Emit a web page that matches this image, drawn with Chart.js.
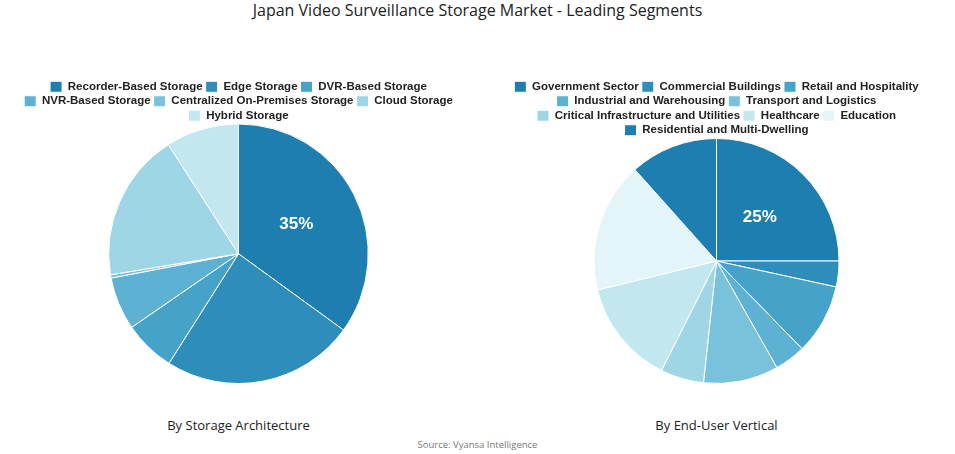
<!DOCTYPE html>
<html>
<head>
    <title>Japan Video Surveillance Storage Market - Leading Segments</title>
    <script src="https://cdn.jsdelivr.net/npm/chart.js"></script>
    <style>
        body {
            margin: 0;
            width: 955px;
            height: 454px;
            background: #ffffff;
            font-family: 'Open Sans', Arial, sans-serif;
            color: #222;
            position: relative;
            overflow: hidden;
        }
        .title {
            position: absolute;
            top: -1px;
            left: 0;
            width: 955px;
            text-align: center;
            font-size: 16px;
        }
        .chart-box {
            position: absolute;
            top: 78px;
            width: 477px;
            height: 308px;
        }
        .sub {
            position: absolute;
            top: 416px;
            width: 477px;
            text-align: center;
            font-size: 13px;
        }
        .source {
            position: absolute;
            top: 438px;
            left: 0;
            width: 955px;
            text-align: center;
            font-size: 9.5px;
            color: #777;
        }
    </style>
</head>
<body>
    <div class="title">Japan Video Surveillance Storage Market - Leading Segments</div>
    <div class="chart-box" style="left:0"><canvas id="archChart"></canvas></div>
    <div class="chart-box" style="left:478px"><canvas id="verticalChart"></canvas></div>
    <div class="sub" style="left:0">By Storage Architecture</div>
    <div class="sub" style="left:478px">By End-User Vertical</div>
    <div class="source">Source: Vyansa Intelligence</div>
    <script>
        // Segment data
        const archLabels = ['Recorder-Based Storage', 'Edge Storage', 'DVR-Based Storage', 'NVR-Based Storage',
            'Centralized On-Premises Storage', 'Cloud Storage', 'Hybrid Storage'];
        const archValues = [35, 24, 6.4, 6.6, 0.4, 18.5, 9.1];

        const verticalLabels = ['Government Sector', 'Commercial Buildings', 'Retail and Hospitality',
            'Industrial and Warehousing', 'Transport and Logistics', 'Critical Infrastructure and Utilities',
            'Healthcare', 'Education', 'Residential and Multi-Dwelling'];
        const verticalValues = [25, 3.4, 9.3, 4.1, 9.9, 5.7, 13.8, 17.2, 11.6];

        const palette = ['#1f7eb0', '#2e8dba', '#45a2c8', '#5db1d3', '#79c2dc', '#9fd6e6', '#c3e7ef', '#e4f5f9'];

        // Only the biggest slice gets its percentage written on it
        const topLabel = {
            id: 'topLabel',
            afterDatasetsDraw(chart) {
                const values = chart.data.datasets[0].data;
                const total = values.reduce((a, b) => a + b, 0);
                const idx = values.indexOf(Math.max(...values));
                const arc = chart.getDatasetMeta(0).data[idx];
                const pos = arc.tooltipPosition();
                const ctx = chart.ctx;
                ctx.save();
                ctx.fillStyle = '#ffffff';
                ctx.font = 'bold 17px "Liberation Sans", Arial, sans-serif';
                ctx.textAlign = 'center';
                ctx.textBaseline = 'middle';
                ctx.fillText(Math.round(values[idx] / total * 100) + '%', pos.x, pos.y);
                ctx.restore();
            }
        };

        // Tighten the space between legend and pie
        const legendGap = {
            id: 'legendGap',
            beforeInit(chart) {
                const origFit = chart.legend.fit;
                chart.legend.fit = function () {
                    origFit.bind(chart.legend)();
                    this.height -= 8;
                };
            }
        };

        function makePie(id, labels, values) {
            new Chart(document.getElementById(id), {
                type: 'pie',
                data: {
                    labels: labels,
                    datasets: [{
                        data: values,
                        backgroundColor: labels.map((l, i) => palette[i % palette.length]),
                        borderColor: '#ffffff',
                        borderWidth: 1
                    }]
                },
                options: {
                    responsive: true,
                    maintainAspectRatio: false,
                    animation: false,
                    layout: { padding: { top: 0, bottom: 2 } },
                    plugins: {
                        legend: {
                            position: 'top',
                            labels: {
                                boxWidth: 12,
                                boxHeight: 11,
                                padding: 3,
                                color: '#222',
                                font: { family: '"Liberation Sans", Arial, sans-serif', size: 11.5, weight: 'bold' }
                            }
                        },
                        tooltip: { enabled: false }
                    }
                },
                plugins: [topLabel, legendGap]
            });
        }

        makePie('archChart', archLabels, archValues);
        makePie('verticalChart', verticalLabels, verticalValues);
    </script>
</body>
</html>
